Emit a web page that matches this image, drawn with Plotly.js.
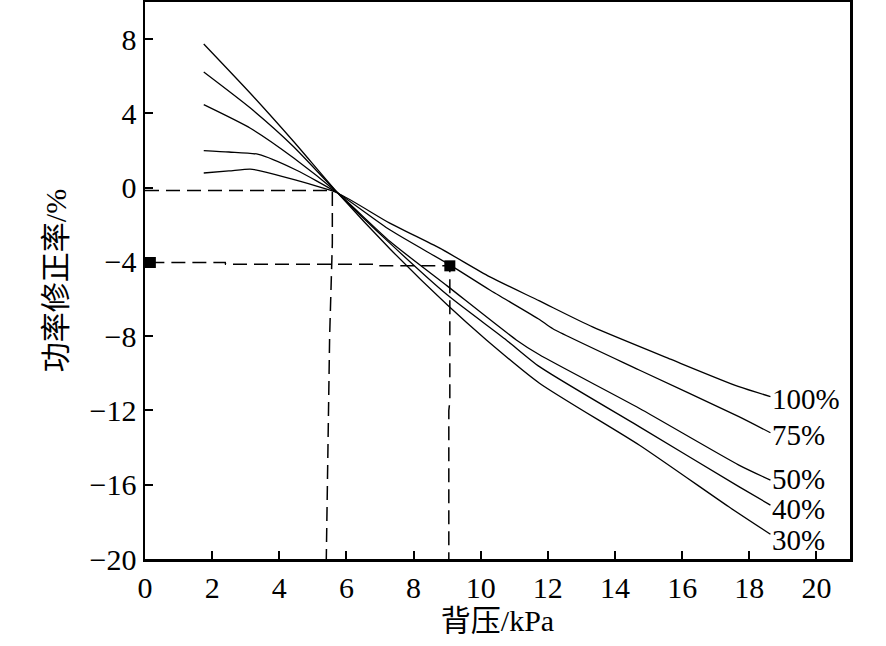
<!DOCTYPE html>
<html>
<head>
<meta charset="utf-8">
<script src="https://cdn.plot.ly/plotly-3.0.1.min.js"></script>
<style>html,body{margin:0;padding:0;background:#fff;}#chart{width:886px;height:646px;}</style>
</head>
<body>
<div id="chart"></div>
<script>
// Curves: back pressure (kPa) vs power correction rate (%)
var seriesNames = ["100%", "75%", "50%", "40%", "30%"];
var x100 = [1.75, 2.5, 3.13, 3.43, 4.5, 5.75, 7.29, 8.78, 10.26, 11.75, 13.33, 15.71, 17.69, 18.63];
var y100 = [0.79, 0.9, 1.0, 0.91, 0.4, -0.3, -1.91, -3.26, -4.79, -6.1, -7.5, -9.28, -10.72, -11.25];
var x75 = [1.75, 2.5, 3.38, 4.5, 5.75, 7.29, 9.08, 10.26, 11.75, 12.15, 14.72, 17.69, 18.63];
var y75 = [2.0, 1.92, 1.79, 0.95, -0.3, -2.27, -4.16, -5.5, -7.1, -7.6, -9.82, -12.33, -13.2];
var x50 = [1.75, 3.14, 4.43, 5.75, 7.3, 9.0, 11.06, 11.75, 14.72, 17.69, 18.63];
var y50 = [4.47, 3.2, 1.6, -0.3, -2.9, -5.29, -8.2, -9.0, -11.88, -14.94, -15.75];
var x40 = [1.75, 3.13, 4.42, 5.75, 7.3, 9.0, 10.76, 11.75, 14.72, 17.69, 18.63];
var y40 = [6.23, 4.3, 2.22, -0.3, -3.0, -5.77, -8.2, -9.64, -12.87, -16.1, -17.1];
var x30 = [1.75, 3.13, 4.42, 5.75, 7.3, 9.0, 10.17, 11.75, 14.72, 17.39, 18.63];
var y30 = [7.74, 5.1, 2.5, -0.3, -3.3, -6.31, -8.2, -10.53, -13.86, -17.19, -18.67];

// Dashed guide lines
var guide1X = [0, 5.58, 5.58, 5.55, 5.5, 5.45, 5.4];
var guide1Y = [-0.15, -0.15, -3, -4.5, -8, -14, -20];
var guide2X = [0.16, 2.39, 2.4, 6.9, 6.95, 9.08, 9.08, 9.05, 9.05];
var guide2Y = [-4.03, -4.03, -4.12, -4.12, -4.21, -4.21, -11.5, -12, -20];
var markX = [0.16, 9.08];
var markY = [-4.03, -4.21];

var xTicks = [0, 2, 4, 6, 8, 10, 12, 14, 16, 18, 20];
var yTicks = [8, 4, 0, -4, -8, -12, -16, -20];

var labelY = [-11.35, -13.3, -15.65, -17.3, -18.95];

var serif = "Liberation Serif, Times New Roman, Noto Sans CJK SC, serif";
var xs = [x100, x75, x50, x40, x30];
var ys = [y100, y75, y50, y40, y30];

var traces = [];
for (var i = 0; i < seriesNames.length; i++) {
  traces.push({x: xs[i], y: ys[i], mode: "lines", name: seriesNames[i],
    line: {color: "#000", width: 1.3, shape: "spline", smoothing: 0.6}, hoverinfo: "skip"});
}
traces.push({x: guide1X, y: guide1Y, mode: "lines", line: {color: "#000", width: 1.5, dash: "14px,7px"}, hoverinfo: "skip"});
traces.push({x: guide2X, y: guide2Y, mode: "lines", line: {color: "#000", width: 1.5, dash: "14px,7px"}, hoverinfo: "skip"});
traces.push({x: markX, y: markY, mode: "markers", marker: {symbol: "square", size: 11, color: "#000"}, hoverinfo: "skip"});

var annotations = [];
for (var j = 0; j < seriesNames.length; j++) {
  annotations.push({x: 18.62, y: labelY[j], xref: "x", yref: "y", text: seriesNames[j],
    showarrow: false, xanchor: "left", yanchor: "middle", height: 27, valign: "middle",
    font: {family: serif, size: 29, color: "#000"}});
}

var layout = {
  width: 886, height: 646,
  margin: {l: 144.5, r: 35.7, t: 2, b: 87},
  paper_bgcolor: "#fff", plot_bgcolor: "#fff",
  showlegend: false,
  font: {family: serif, size: 30, color: "#000"},
  xaxis: {
    range: [0, 21], tickvals: xTicks, ticktext: xTicks.map(String),
    ticks: "inside", ticklen: 8, tickwidth: 2, tickcolor: "#000",
    showline: true, linewidth: 2.5, linecolor: "#000", mirror: true,
    showgrid: false, zeroline: false,
    tickfont: {family: serif, size: 30},
    title: {text: "背压/kPa", font: {family: serif, size: 30}, standoff: 6}
  },
  yaxis: {
    range: [-20, 10], tickvals: yTicks, ticktext: yTicks.map(function(v){return v < 0 ? "\u2212" + Math.abs(v) : String(v);}),
    ticks: "inside", ticklen: 8, tickwidth: 2, tickcolor: "#000",
    showline: true, linewidth: 2.5, linecolor: "#000", mirror: true,
    showgrid: false, zeroline: false,
    tickfont: {family: serif, size: 30},
    title: {text: "功率修正率/%", font: {family: serif, size: 30}, standoff: 14}
  },
  annotations: annotations
};

Plotly.newPlot("chart", traces, layout, {displayModeBar: false, staticPlot: true});
</script>
</body>
</html>
